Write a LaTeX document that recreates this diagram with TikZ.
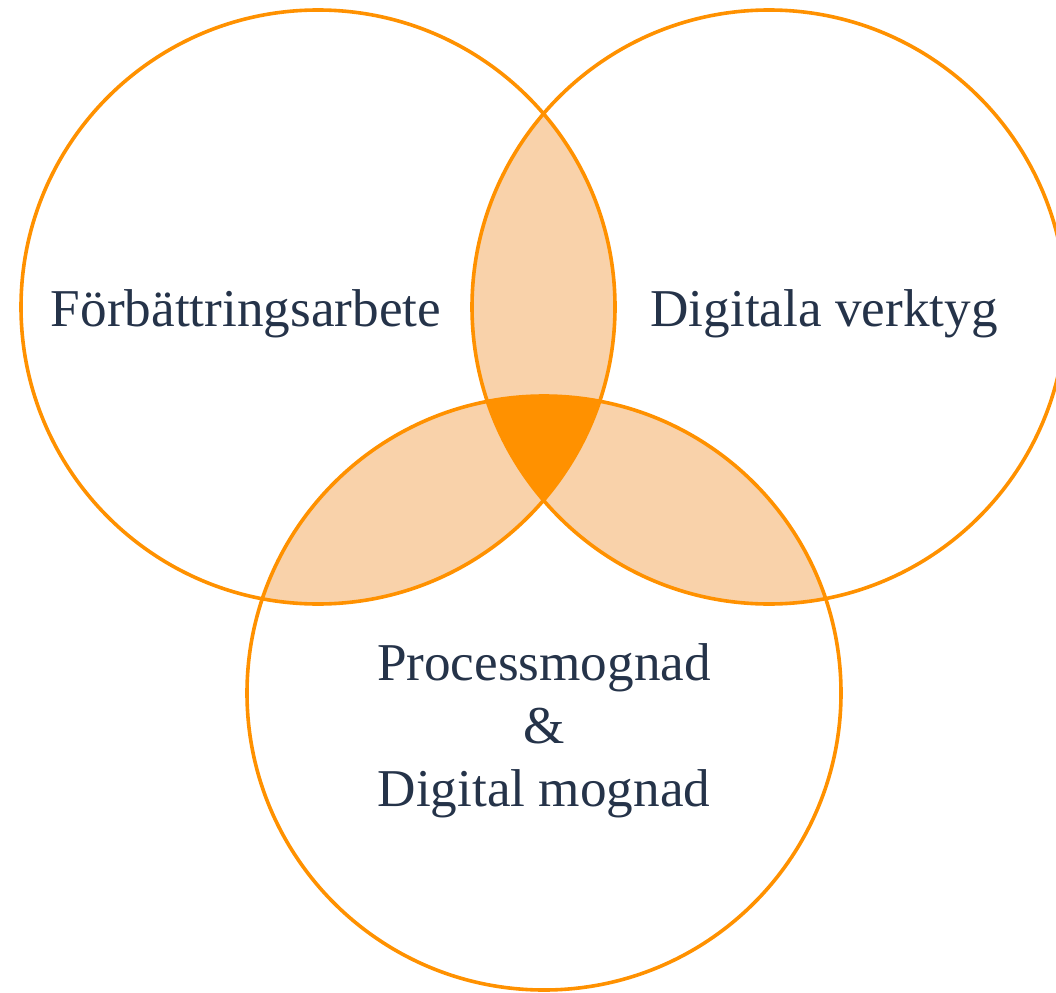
\documentclass[tikz,border=0pt]{standalone}
\usepackage{fontspec}
\setmainfont{Liberation Serif}
\definecolor{orng}{HTML}{FF9100}
\definecolor{lightorng}{HTML}{F9D2AA}
\definecolor{txt}{HTML}{253349}
\begin{document}
\begin{tikzpicture}[x=1pt,y=-1pt,
  ring/.style={draw=orng,line width=3.6pt},
  lbl/.style={text=txt,font=\fontsize{53.2}{63}\selectfont,inner sep=0pt,anchor=base}]
\useasboundingbox (0,0) rectangle (1056,992);
\def\R{297pt}
\coordinate (cA) at (318,307);
\coordinate (cB) at (769,307);
\coordinate (cC) at (544,693);
% pairwise overlaps
\begin{scope}
  \clip (cA) circle[radius=\R];
  \fill[lightorng] (cB) circle[radius=\R];
  \fill[lightorng] (cC) circle[radius=\R];
\end{scope}
\begin{scope}
  \clip (cB) circle[radius=\R];
  \fill[lightorng] (cC) circle[radius=\R];
\end{scope}
\begin{scope}
  \clip (cA) circle[radius=\R];
  \clip (cB) circle[radius=\R];
  \fill[orng] (cC) circle[radius=\R];
\end{scope}
\draw[ring] (cA) circle[radius=\R];
\draw[ring] (cB) circle[radius=\R];
\draw[ring] (cC) circle[radius=\R];
\node[lbl] (t1) at (246,326) {Förbättringsarbete};
\node[lbl] (t2) at (824,326) {Digitala verktyg};
\node[lbl] (t3) at (544,680) {Processmognad};
\node[lbl] (t4) at (544,743) {\&};
\node[lbl] (t5) at (544,806) {Digital mognad};
\end{tikzpicture}
\end{document}
